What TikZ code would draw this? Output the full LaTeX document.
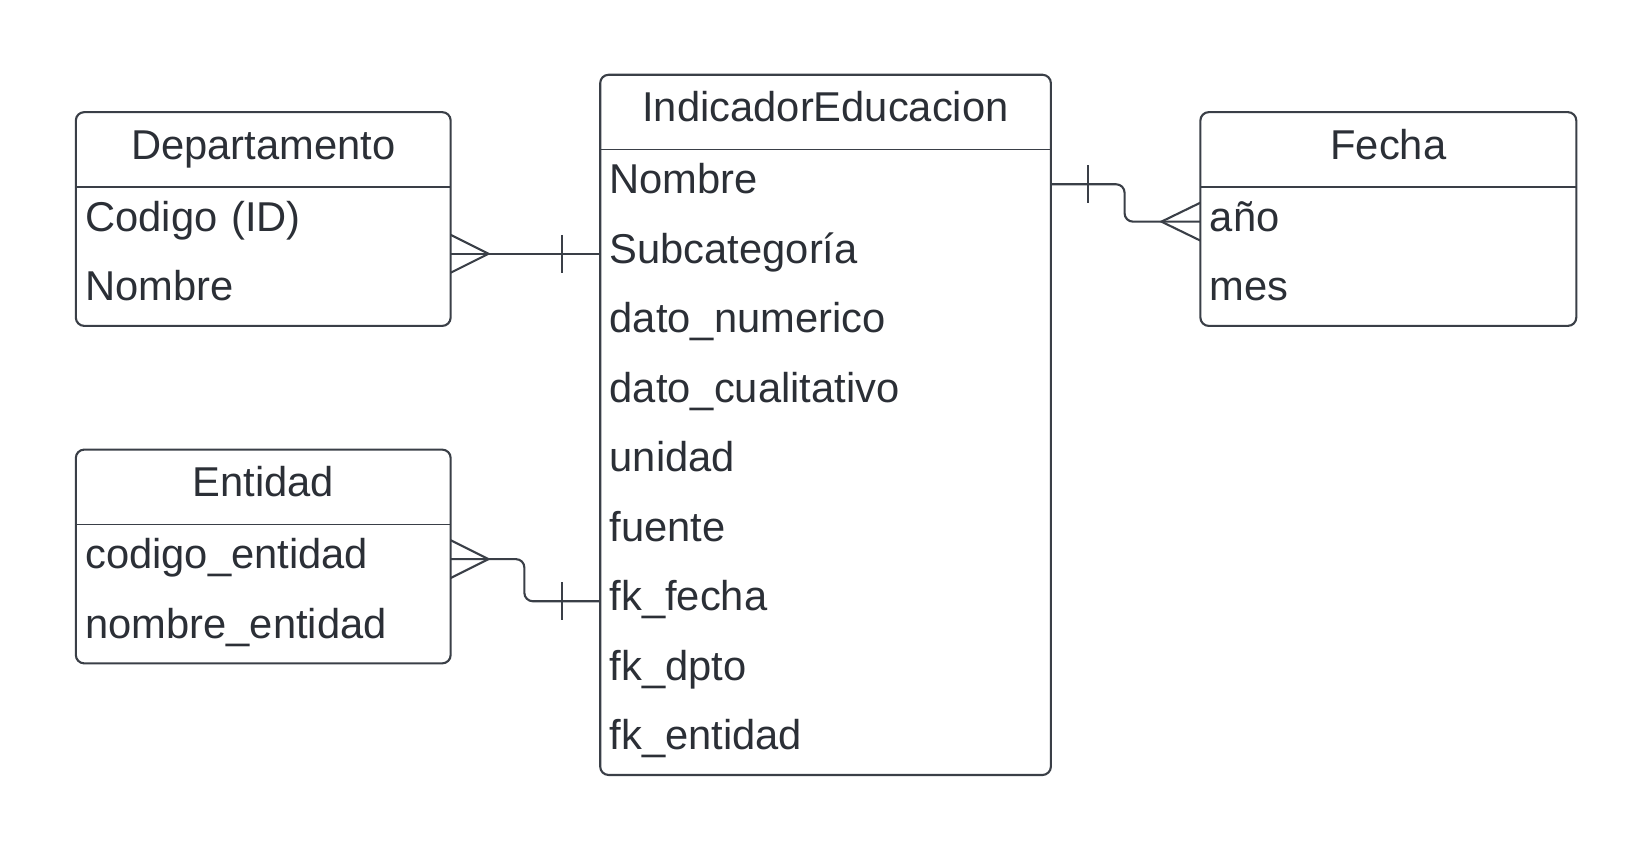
\documentclass[tikz,border=0pt]{standalone}
\usepackage{fontspec}
\setmainfont{Liberation Sans}
\usetikzlibrary{positioning, fit}

\definecolor{ink}{HTML}{2B2F36}
\definecolor{edge}{HTML}{3A3F47}

\tikzset{
    field/.style={text=ink, font=\fontsize{39.6}{46}\selectfont, text width=#1,
        align=left, inner xsep=9pt, inner ysep=0pt, outer sep=0pt,
        text height=26pt, text depth=8pt, minimum height=66pt},
    title/.style={align=center, minimum height=71pt},
    entity/.style={draw=edge, line width=2pt, rounded corners=8pt,
        inner sep=0pt, outer sep=0pt},
    header/.style={draw=edge, line width=1.2pt},
    link/.style={draw=edge, line width=2pt}
}

\begin{document}
\begin{tikzpicture}[x=1pt, y=-1pt]
    \useasboundingbox (0,0) rectangle (1567,806);

    % Departamento
    \node[field=338pt, title] (dpto-title) at (250,142) {Departamento};
    \node[field=338pt, below=0pt of dpto-title] (dpto-codigo) {Codigo (ID)};
    \node[field=338pt, below=0pt of dpto-codigo] (dpto-nombre) {Nombre};
    \node[entity, fit=(dpto-title)(dpto-nombre)] (dpto) {};
    \draw[header] (dpto-title.south west) -- (dpto-title.south east);

    % Entidad
    \node[field=338pt, title] (ent-title) at (250,462.5) {Entidad};
    \node[field=338pt, below=0pt of ent-title] (ent-codigo) {codigo\_entidad};
    \node[field=338pt, below=0pt of ent-codigo] (ent-nombre) {nombre\_entidad};
    \node[entity, fit=(ent-title)(ent-nombre)] (ent) {};
    \draw[header] (ent-title.south west) -- (ent-title.south east);

    % IndicadorEducacion
    \node[field=410pt, title] (ind-title) at (784,106.5) {IndicadorEducacion};
    \node[field=410pt, below=0pt of ind-title] (ind-nombre) {Nombre};
    \node[field=410pt, below=0pt of ind-nombre] (ind-subcat) {Subcategoría};
    \node[field=410pt, below=0pt of ind-subcat] (ind-numerico) {dato\_numerico};
    \node[field=410pt, below=0pt of ind-numerico] (ind-cualitativo) {dato\_cualitativo};
    \node[field=410pt, below=0pt of ind-cualitativo] (ind-unidad) {unidad};
    \node[field=410pt, below=0pt of ind-unidad] (ind-fuente) {fuente};
    \node[field=410pt, below=0pt of ind-fuente] (ind-fkfecha) {fk\_fecha};
    \node[field=410pt, below=0pt of ind-fkfecha] (ind-fkdpto) {fk\_dpto};
    \node[field=410pt, below=0pt of ind-fkdpto] (ind-fkentidad) {fk\_entidad};
    \node[entity, fit=(ind-title)(ind-fkentidad)] (ind) {};
    \draw[header] (ind-title.south west) -- (ind-title.south east);

    % Fecha
    \node[field=339pt, title] (fecha-title) at (1318.5,142) {Fecha};
    \node[field=339pt, below=0pt of fecha-title] (fecha-anio) {año};
    \node[field=339pt, below=0pt of fecha-anio] (fecha-mes) {mes};
    \node[entity, fit=(fecha-title)(fecha-mes)] (fecha) {};
    \draw[header] (fecha-title.south west) -- (fecha-title.south east);

    % Departamento (many) -- IndicadorEducacion (one)
    \coordinate (dpto-end) at (dpto.east |- ind-subcat.west);
    \draw[link] (dpto-end) -- (ind-subcat.west);
    \draw[link] (dpto-end) ++(0,-18) -- ++(36,18) -- ++(-36,18);
    \draw[link] (ind-subcat.west) ++(-36,-18) -- ++(0,36);

    % IndicadorEducacion (one) -- Fecha (many)
    \draw[link, rounded corners=8pt] (ind-nombre.east) -- ++(70,0) |- (fecha-anio.west);
    \draw[link] (ind-nombre.east) ++(35,-18) -- ++(0,36);
    \draw[link] (fecha-anio.west) ++(0,-18) -- ++(-37,18) -- ++(37,18);

    % Entidad (many) -- IndicadorEducacion (one)
    \draw[link, rounded corners=8pt] (ent-codigo.east) -- ++(70,0) |- (ind-fkfecha.west);
    \draw[link] (ent-codigo.east) ++(0,-18) -- ++(36,18) -- ++(-36,18);
    \draw[link] (ind-fkfecha.west) ++(-36,-18) -- ++(0,36);
\end{tikzpicture}
\end{document}
